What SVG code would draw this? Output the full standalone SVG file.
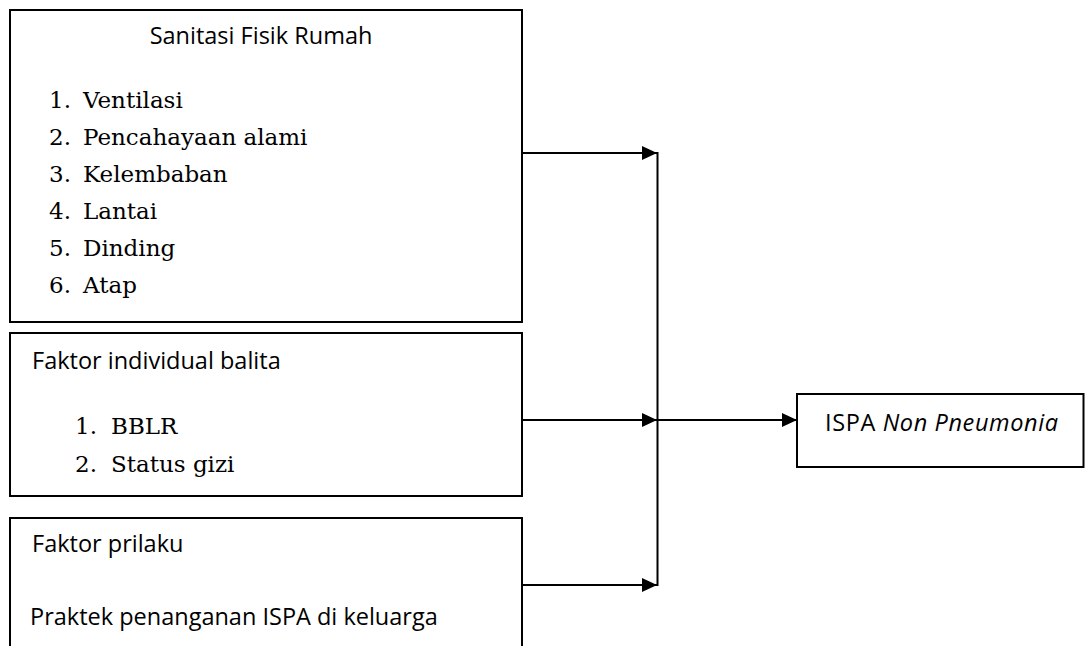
<svg xmlns="http://www.w3.org/2000/svg" width="1085" height="646" viewBox="0 0 1085 646">
  <defs>
    <marker id="arrow" markerUnits="userSpaceOnUse" markerWidth="15" markerHeight="14" refX="15" refY="7" orient="auto">
      <path d="M0,0 L15,7 L0,14 z" fill="#000"/>
    </marker>
    <style>
      .box { fill: #fff; stroke: #000; stroke-width: 2; }
      .sans { font-family: "Open Sans", "Noto Sans", "Liberation Sans", sans-serif; font-size: 23.5px; fill: #000; }
      .serif { font-family: "DejaVu Serif", "Liberation Serif", serif; font-size: 23px; fill: #000; }
      .conn { stroke: #000; stroke-width: 2; fill: none; }
    </style>
  </defs>
  <rect width="1085" height="646" fill="#fff"/>

  <g id="node-sanitasi">
    <rect class="box" x="10" y="10" width="512" height="312"/>
    <text class="sans" x="261" y="44" text-anchor="middle">Sanitasi Fisik Rumah</text>
    <text class="serif" x="49" y="108">1.</text><text class="serif" x="83" y="108">Ventilasi</text>
    <text class="serif" x="49" y="145">2.</text><text class="serif" x="83" y="145">Pencahayaan alami</text>
    <text class="serif" x="49" y="182">3.</text><text class="serif" x="83" y="182">Kelembaban</text>
    <text class="serif" x="49" y="219">4.</text><text class="serif" x="83" y="219">Lantai</text>
    <text class="serif" x="49" y="256">5.</text><text class="serif" x="83" y="256">Dinding</text>
    <text class="serif" x="49" y="293">6.</text><text class="serif" x="83" y="293">Atap</text>
  </g>

  <g id="node-individual">
    <rect class="box" x="10" y="333" width="512" height="163"/>
    <text class="sans" x="32" y="369">Faktor individual balita</text>
    <text class="serif" x="75" y="434">1.</text><text class="serif" x="111" y="434">BBLR</text>
    <text class="serif" x="75" y="472">2.</text><text class="serif" x="111" y="472">Status gizi</text>
  </g>

  <g id="node-prilaku">
    <rect class="box" x="10" y="518" width="512" height="140"/>
    <text class="sans" x="32" y="552">Faktor prilaku</text>
    <text class="sans" x="30" y="625">Praktek penanganan ISPA di keluarga</text>
  </g>

  <g id="node-ispa">
    <rect class="box" x="797" y="394" width="286.5" height="73"/>
    <text class="sans" x="825" y="431" textLength="233" lengthAdjust="spacing">ISPA <tspan font-style="italic">Non Pneumonia</tspan></text>
  </g>

  <g id="connectors">
    <line class="conn" x1="522" y1="153" x2="657" y2="153" marker-end="url(#arrow)"/>
    <line class="conn" x1="522" y1="420" x2="657" y2="420" marker-end="url(#arrow)"/>
    <line class="conn" x1="522" y1="585" x2="657" y2="585" marker-end="url(#arrow)"/>
    <line class="conn" x1="657.5" y1="152" x2="657.5" y2="586"/>
    <line class="conn" x1="657" y1="420" x2="797" y2="420" marker-end="url(#arrow)"/>
  </g>
</svg>
